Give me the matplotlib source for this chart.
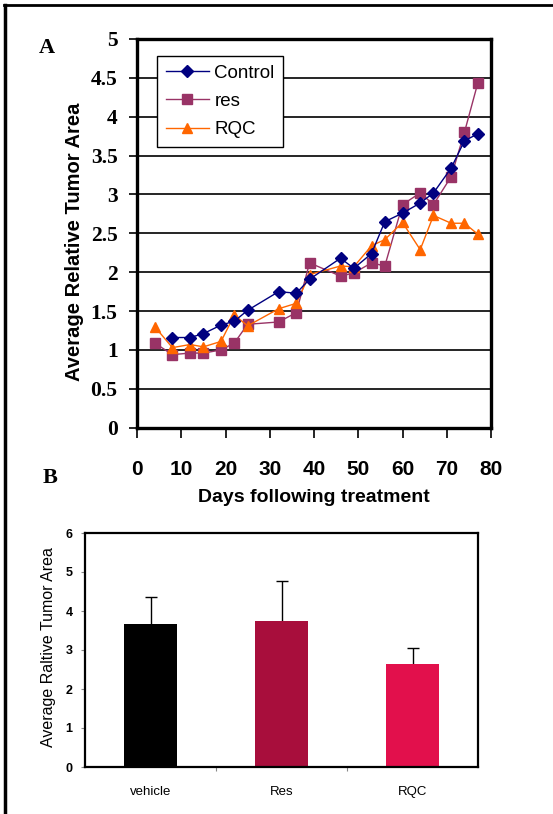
import matplotlib
matplotlib.use("Agg")
import matplotlib.pyplot as plt
from matplotlib.lines import Line2D
import numpy as np

# ---- Panel A data ----
days_control = [8, 12, 15, 19, 22, 25, 32, 36, 39, 46, 49, 53, 56, 60, 64, 67, 71, 74, 77]
control = [1.16, 1.16, 1.21, 1.32, 1.37, 1.51, 1.75, 1.73, 1.91, 2.18, 2.05, 2.24, 2.65, 2.76, 2.89, 3.02, 3.34, 3.69, 3.78]
days = [4, 8, 12, 15, 19, 22, 25, 32, 36, 39, 46, 49, 53, 56, 60, 64, 67, 71, 74, 77]
res = [1.09, 0.94, 0.96, 0.96, 1.00, 1.09, 1.33, 1.36, 1.48, 2.12, 1.95, 1.99, 2.12, 2.08, 2.87, 3.02, 2.87, 3.23, 3.80, 4.43]
rqc = [1.30, 1.03, 1.07, 1.04, 1.11, 1.45, 1.31, 1.53, 1.60, 1.97, 2.08, 2.07, 2.34, 2.42, 2.64, 2.29, 2.73, 2.63, 2.63, 2.49]
yticksA = [0, 0.5, 1, 1.5, 2, 2.5, 3, 3.5, 4, 4.5, 5]
xticksA = [0, 10, 20, 30, 40, 50, 60, 70, 80]

# ---- Panel B data ----
groups = ["vehicle", "Res", "RQC"]
means = [3.66, 3.75, 2.64]
errs = [0.71, 1.03, 0.40]
bar_colors = ["#000000", "#A80E3C", "#E2104C"]
yticksB = [0, 1, 2, 3, 4, 5, 6]

W, H = 553, 814
fig = plt.figure(figsize=(W / 100, H / 100), dpi=100)
sans = ["Liberation Sans", "DejaVu Sans"]
serif = ["Liberation Serif", "DejaVu Serif"]

# outer frame (left and top edges)
fig.add_artist(Line2D([5 / W, 5 / W], [0, 1 - 5 / H], color="black", lw=2.5, transform=fig.transFigure))
fig.add_artist(Line2D([4 / W, 1], [1 - 5 / H, 1 - 5 / H], color="black", lw=2.0, transform=fig.transFigure))

# ---- Panel A ----
axA = fig.add_axes([137 / W, (H - 427.7) / H, (491 - 137) / W, (427.7 - 39) / H])
axA.set_xlim(0, 80)
axA.set_ylim(0, 5)
axA.set_yticks(yticksA)
axA.set_yticklabels([f"{v:g}" for v in yticksA], fontfamily=serif, fontweight="bold", fontsize=15.5)
axA.set_xticks(xticksA)
axA.set_xticklabels([str(v) for v in xticksA], fontfamily=sans, fontweight="bold", fontsize=15)
axA.tick_params(axis="y", direction="out", length=6, width=1.2, pad=8)
axA.tick_params(axis="x", direction="out", length=7, width=1.2, pad=16)
for v in yticksA[1:-1]:
    axA.axhline(v, color="black", lw=1.2, zorder=1)
for s in axA.spines.values():
    s.set_linewidth(2.4)

l_res, = axA.plot(days, res, color="#993366", lw=1.0, marker="s", ms=7.5,
                  markerfacecolor="#993366", markeredgecolor="#993366", label="res", zorder=3)
l_rqc, = axA.plot(days, rqc, color="#FF6600", lw=1.0, marker="^", ms=7.5,
                  markerfacecolor="#FF6600", markeredgecolor="#FF6600", label="RQC", zorder=4)
l_ctl, = axA.plot(days_control, control, color="#000080", lw=1.0, marker="D", ms=6,
                  markerfacecolor="#000080", markeredgecolor="#000080", label="Control", zorder=5)

leg = axA.legend(handles=[l_ctl, l_res, l_rqc], loc="upper left", bbox_to_anchor=(0.057, 0.956),
                 borderaxespad=0, fancybox=False, framealpha=1, edgecolor="black",
                 prop={"family": sans, "size": 13.5}, handlelength=2.3, handletextpad=0.3,
                 labelspacing=0.6, borderpad=0.45)
leg.get_frame().set_linewidth(1.0)

fig.text(75 / W, 1 - 242 / H, "Average Relative Tumor Area", rotation=90, ha="center", va="center",
         fontfamily=sans, fontweight="bold", fontsize=14.5)
fig.text(314 / W, 1 - 497 / H, "Days following treatment", ha="center", va="center",
         fontfamily=sans, fontweight="bold", fontsize=14)
fig.text(47 / W, 1 - 48 / H, "A", ha="center", va="center", fontfamily=serif, fontweight="bold", fontsize=16)
fig.text(50 / W, 1 - 478 / H, "B", ha="center", va="center", fontfamily=serif, fontweight="bold", fontsize=16)

# ---- Panel B ----
axB = fig.add_axes([85 / W, (H - 767) / H, (478 - 85) / W, (767 - 533) / H])
x = np.arange(len(groups))
axB.errorbar(x, means, yerr=errs, fmt="none", ecolor="black",
             elinewidth=1.0, capsize=4, capthick=1.0, zorder=1)
axB.bar(x, means, width=0.4, color=bar_colors, edgecolor="none", zorder=2)
axB.set_xlim(-0.5, 2.5)
axB.set_ylim(0, 6)
axB.set_yticks(yticksB)
axB.set_yticklabels([str(v) for v in yticksB], fontfamily=sans, fontweight="bold", fontsize=9)
axB.set_xticks(x)
axB.set_xticklabels(groups, fontfamily=sans, fontsize=9.5)
axB.set_xticks([0.5, 1.5], minor=True)
axB.tick_params(axis="x", which="major", length=0, pad=14)
axB.tick_params(axis="x", which="minor", length=3, width=0.8, direction="out", color="#888888")
axB.tick_params(axis="y", length=3, width=0.8, direction="out", color="#888888", pad=6)
for s in axB.spines.values():
    s.set_linewidth(1.6)
    s.set_zorder(3)
fig.text(49 / W, 1 - 647 / H, "Average Raltive Tumor Area", rotation=90, ha="center", va="center",
         fontfamily=sans, fontsize=11.5)

fig.savefig("out.png", dpi=100)
